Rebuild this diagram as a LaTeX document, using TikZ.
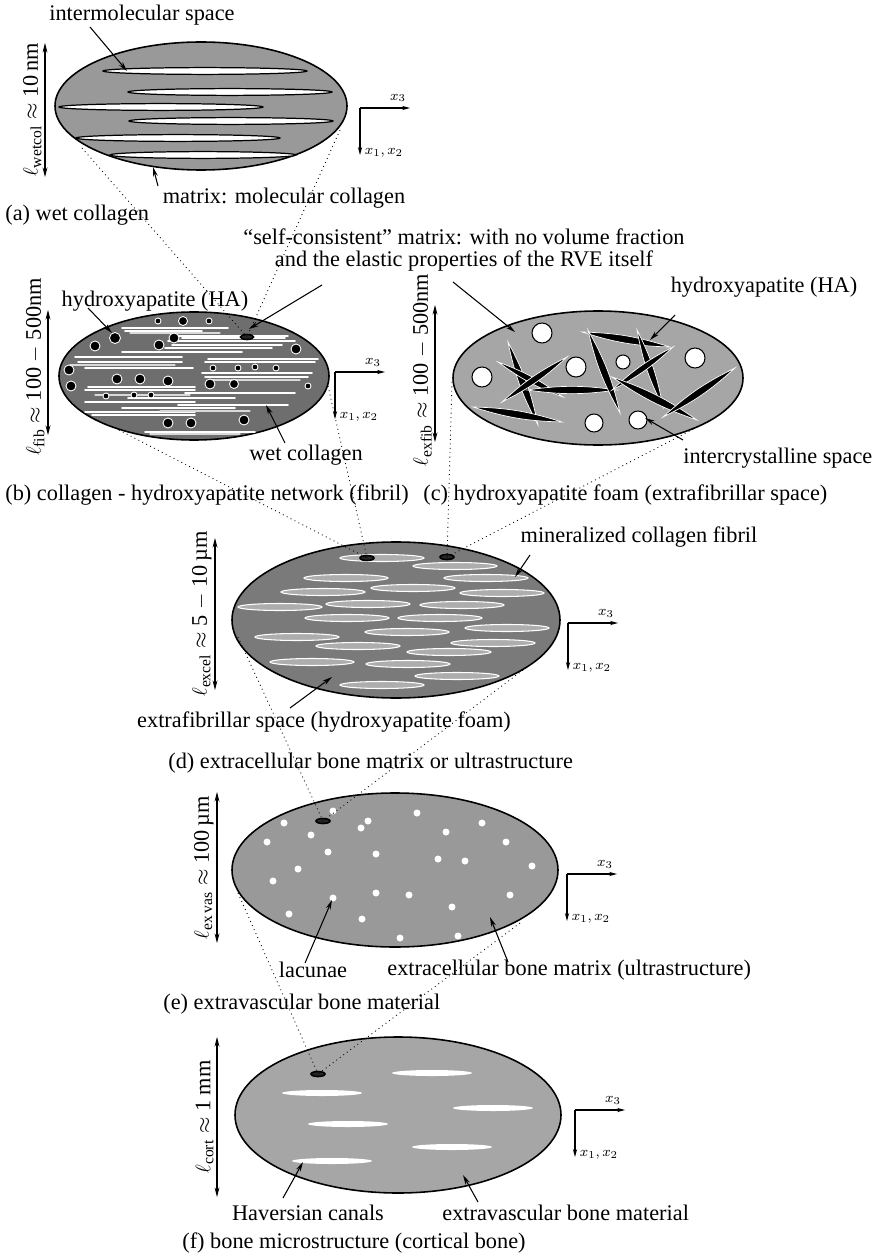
\documentclass[tikz,border=0pt]{standalone}
\usepackage{fontspec}
\setmainfont{Liberation Serif}
\usetikzlibrary{arrows.meta}

\definecolor{wetcolgray}{gray}{0.6}
\definecolor{fibgray}{gray}{0.43}
\definecolor{foamgray}{gray}{0.65}
\definecolor{excelgray}{gray}{0.48}
\definecolor{fibrilgray}{gray}{0.68}
\definecolor{exvasgray}{gray}{0.6}
\definecolor{cortgray}{gray}{0.65}

\tikzset{
  rve/.style={draw=black, line width=0.9pt},
  lbl/.style={font=\fontsize{12.7}{12}\selectfont, inner sep=0pt},
  axlbl/.style={font=\fontsize{8.5}{10}\selectfont, inner sep=0pt},
  pointer/.style={-{Stealth[length=5.5pt,width=2.8pt]}, line width=0.6pt},
  scalebar/.style={{Stealth[length=5.5pt,width=2.8pt]}-{Stealth[length=5.5pt,width=2.8pt]}, line width=0.6pt},
  axis/.style={-{Stealth[length=4.5pt,width=2.4pt]}, line width=0.6pt},
  zoomline/.style={dotted, line width=0.5pt},
  slit/.style={fill=white, draw=black, line width=0.7pt},
  fibre/.style={white, line width=0.9pt, line cap=round},
  crystal/.style={fill=black, draw=white, line width=0.5pt},
  needle/.style={fill=black, draw=white, line width=0.4pt},
  pore/.style={fill=white, draw=black, line width=0.6pt},
  fibril/.style={fill=fibrilgray, draw=white, line width=0.6pt},
  spot/.style={fill=black!85, draw=black, line width=0.9pt},
}

\begin{document}
\begin{tikzpicture}[x=0.02cm, y=-0.02cm]
\useasboundingbox (0,0) rectangle (878,1260);

% (a) wet collagen
\filldraw[rve, fill=wetcolgray] (201,106) ellipse [x radius=146, y radius=64];
\foreach \x/\y/\r in {205/71/102, 230/92/102, 161/107/102, 231/121/102, 178/138/102, 203/155/93}
  \filldraw[slit] (\x,\y) ellipse [x radius=\r, y radius=3.4];

% (b) fibril: collagen with crystals
\filldraw[rve, fill=fibgray] (194,376) ellipse [x radius=135, y radius=64];
\foreach \xa/\xb/\yy in {122/228/328, 125/202/331, 178/288/336, 182/285/338, 168/295/341,
    172/282/345, 165/272/348, 122/242/352, 75/182/357, 78/182/362, 85/193/368,
    208/318/359, 205/315/362, 202/312/373, 205/308/377, 88/195/387, 85/195/390,
    185/295/393, 128/235/398, 85/195/402, 178/288/405, 122/235/408, 85/195/412,
    92/195/415, 145/255/432}
  \draw[fibre] (\xa,\yy) -- (\xb,\yy);
\foreach \xa/\xb/\yy in {130/220/333, 70/175/365, 210/300/380, 95/190/395, 160/250/411, 150/240/434}
  \draw[fibre, gray!30, line width=0.6pt] (\xa,\yy) -- (\xb,\yy);
\foreach \x/\y/\r in {158/321/3, 183/321/4.5, 209/321/3, 115/338/5.5, 95/346/5, 159/345/5,
    174/338/5, 296/349/5, 69/370/5, 71/386/5, 117/379/5, 140/379/5, 168/381/5,
    210/384/5, 234/384/4.5, 213/368/3, 238/368/3, 255/367/3, 276/368/3, 308/386/3,
    106/396/3, 134/395/3, 151/395/3, 168/423/5, 191/423/5, 244/420/5}
  \filldraw[crystal] (\x,\y) circle (\r);
\filldraw[spot] (247,337) ellipse [x radius=6.5, y radius=2.5];

% (c) foam of needles
\filldraw[rve, fill=foamgray] (598,378) ellipse [x radius=145, y radius=67];
\foreach \xa/\ya/\xb/\yb in {508/342/538/425, 498/362/563/397, 502/402/567/357,
    527/390/617/390, 473/407/562/422, 582/332/670/347, 588/330/620/413,
    637/330/663/407, 612/390/673/347, 612/377/697/420, 663/417/735/368}
  \filldraw[needle] (\xa,\ya) to[bend left=8] (\xb,\yb) to[bend left=8] (\xa,\ya) -- cycle;
\foreach \x/\y/\r in {542/333/10, 482/377/10, 576/367/10, 623/362/7, 695/358/10, 594/423/9, 638/420/9}
  \filldraw[pore] (\x,\y) circle (\r);

% (d) ultrastructure
\filldraw[rve, fill=excelgray] (396,620) ellipse [x radius=164, y radius=78];
\foreach \x/\y in {382/558, 455/566, 346/578, 486/578, 413/588, 323/592, 502/593,
    368/604, 462/605, 280/607, 347/618, 440/618, 507/628, 407/632, 297/637,
    493/643, 358/646, 449/652, 312/662, 408/664, 457/676, 382/685}
  \filldraw[fibril] (\x,\y) ellipse [x radius=42, y radius=3.5];
\filldraw[spot] (367,558) ellipse [x radius=7, y radius=2.5];
\filldraw[spot] (447,557) ellipse [x radius=7, y radius=2.5];

% (e) extravascular material
\filldraw[rve, fill=exvasgray] (395,870) ellipse [x radius=163, y radius=77];
\foreach \x/\y in {333/811, 284/823, 368/821, 361/828, 417/813, 482/823, 446/832,
    311/835, 267/842, 506/842, 328/852, 376/854, 438/859, 465/861, 532/866,
    298/869, 273/881, 333/898, 376/893, 409/895, 510/895, 452/907, 289/914,
    362/919, 400/938, 458/936}
  \fill[white] (\x,\y) circle (3.5);
\filldraw[spot] (323,821) ellipse [x radius=7, y radius=2.5];

% (f) cortical bone
\filldraw[rve, fill=cortgray] (398,1115) ellipse [x radius=163, y radius=78];
\foreach \x/\y in {432/1073, 322/1093, 493/1108, 348/1124, 452/1147, 332/1161}
  \fill[white] (\x,\y) ellipse [x radius=40, y radius=3];
\filldraw[spot] (318,1074) ellipse [x radius=7, y radius=2.5];

% zoom lines between the scales
\coordinate (spotB) at (247,337);
\coordinate (spotDb) at (367,558);
\coordinate (spotDc) at (447,557);
\coordinate (spotE) at (323,821);
\coordinate (spotF) at (318,1074);
\draw[zoomline] (82,148) -- (spotB);
\draw[zoomline] (340,130) -- (spotB);
\draw[zoomline] (115,428) -- (spotDb);
\draw[zoomline] (328,386) -- (spotDb);
\draw[zoomline] (452,382) -- (spotDc);
\draw[zoomline] (705,423) -- (spotDc);
\draw[zoomline] (238,637) -- (spotE);
\draw[zoomline] (523,670) -- (spotE);
\draw[zoomline] (238,893) -- (spotF);
\draw[zoomline] (520,923) -- (spotF);

% length scales
\draw[scalebar] (45,43) -- (45,177);
\node[lbl, rotate=90, anchor=south] (lenA) at (42,110) {$\ell_{\mathrm{wetcol}}\approx$ 10\,nm};
\draw[scalebar] (48,310) -- (48,435);
\node[lbl, rotate=90, anchor=south] (lenB) at (45,367) {$\ell_{\mathrm{fib}}\approx$ 100 $-$ 500nm};
\draw[scalebar] (435,305) -- (435,442);
\node[lbl, rotate=90, anchor=south] (lenC) at (432,370) {$\ell_{\mathrm{exfib}}\approx$ 100 $-$ 500nm};
\draw[scalebar] (215,538) -- (215,690);
\node[lbl, rotate=90, anchor=south] (lenD) at (212,614) {$\ell_{\mathrm{excel}}\approx$ 5 $-$ 10\,µm};
\draw[scalebar] (217,792) -- (217,943);
\node[lbl, rotate=90, anchor=south] (lenE) at (214,868) {$\ell_{\mathrm{ex\,vas}}\approx$ 100\,µm};
\draw[scalebar] (217,1037) -- (217,1197);
\node[lbl, rotate=90, anchor=south] (lenF) at (214,1117) {$\ell_{\mathrm{cort}}\approx$ 1 mm};

% reference axes
\foreach \cx/\cy in {360/108, 335/372, 568/623, 567/874, 575/1110} {
  \draw[axis] (\cx,\cy) -- ({\cx+50},\cy);
  \draw[axis] (\cx,\cy) -- (\cx,{\cy+47});
  \node[axlbl] at ({\cx+38},{\cy-10}) {$x_3$};
  \node[axlbl] at ({\cx+24},{\cy+45}) {$x_1, x_2$};
}

% labels and pointers
\node[lbl] (im) at (142,15) {intermolecular space};
\coordinate (imS) at (90,27);   \coordinate (imE) at (127,71);
\draw[pointer] (imS) -- (imE);
\node[lbl] (mx) at (284,198) {matrix: molecular collagen};
\coordinate (mxS) at (158,186); \coordinate (mxE) at (153,167);
\draw[pointer] (mxS) -- (mxE);
\node[lbl, anchor=west] (capA) at (5,215) {(a) wet collagen};

\node[lbl, align=center] (sc) at (464,250) {“self-consistent” matrix: with no volume fraction\\and the elastic properties of the RVE itself};
\coordinate (scB) at (322,285); \coordinate (scBE) at (249,329);
\coordinate (scC) at (453,282); \coordinate (scCE) at (515,332);
\draw[pointer] (scB) -- (scBE);
\draw[pointer] (scC) -- (scCE);

\node[lbl] (haB) at (155,301) {hydroxyapatite (HA)};
\coordinate (haBS) at (88,308);  \coordinate (haBE) at (112,333);
\draw[pointer] (haBS) -- (haBE);
\node[lbl] (wc) at (306,455) {wet collagen};
\coordinate (wcS) at (285,443);  \coordinate (wcE) at (266,405);
\draw[pointer] (wcS) -- (wcE);
\node[lbl] (haC) at (764,287) {hydroxyapatite (HA)};
\coordinate (haCS) at (675,315); \coordinate (haCE) at (650,340);
\draw[pointer] (haCS) -- (haCE);
\node[lbl, anchor=west] (ic) at (683,458) {intercrystalline space};
\coordinate (icS) at (683,440);  \coordinate (icE) at (645,418);
\draw[pointer] (icS) -- (icE);
\node[lbl, anchor=west] (capB) at (5,495) {(b) collagen - hydroxyapatite network (fibril)};
\node[lbl, anchor=west] (capC) at (423,495) {(c) hydroxyapatite foam (extrafibrillar space)};

\node[lbl] (mcf) at (639,537) {mineralized collagen fibril};
\coordinate (mcfS) at (530,555); \coordinate (mcfE) at (515,577);
\draw[pointer] (mcfS) -- (mcfE);
\node[lbl] (efs) at (324,722) {extrafibrillar space (hydroxyapatite foam)};
\coordinate (efsS) at (290,708); \coordinate (efsE) at (332,677);
\draw[pointer] (efsS) -- (efsE);
\node[lbl, anchor=west] (capD) at (168,763) {(d) extracellular bone matrix or ultrastructure};

\node[lbl] (lac) at (313,970) {lacunae};
\coordinate (lacS) at (305,963); \coordinate (lacE) at (332,900);
\draw[pointer] (lacS) -- (lacE);
\node[lbl, anchor=west] (ecbm) at (387,970) {extracellular bone matrix (ultrastructure)};
\coordinate (ecbmS) at (508,962); \coordinate (ecbmE) at (490,917);
\draw[pointer] (ecbmS) -- (ecbmE);
\node[lbl, anchor=west] (capE) at (163,1004) {(e) extravascular bone material};

\node[lbl] (hc) at (308,1213) {Haversian canals};
\coordinate (hcS) at (283,1198); \coordinate (hcE) at (303,1162);
\draw[pointer] (hcS) -- (hcE);
\node[lbl, anchor=west] (evbm) at (442,1213) {extravascular bone material};
\coordinate (evbmS) at (478,1202); \coordinate (evbmE) at (463,1175);
\draw[pointer] (evbmS) -- (evbmE);
\node[lbl, anchor=west] (capF) at (182,1243) {(f) bone microstructure (cortical bone)};
\end{tikzpicture}
\end{document}
